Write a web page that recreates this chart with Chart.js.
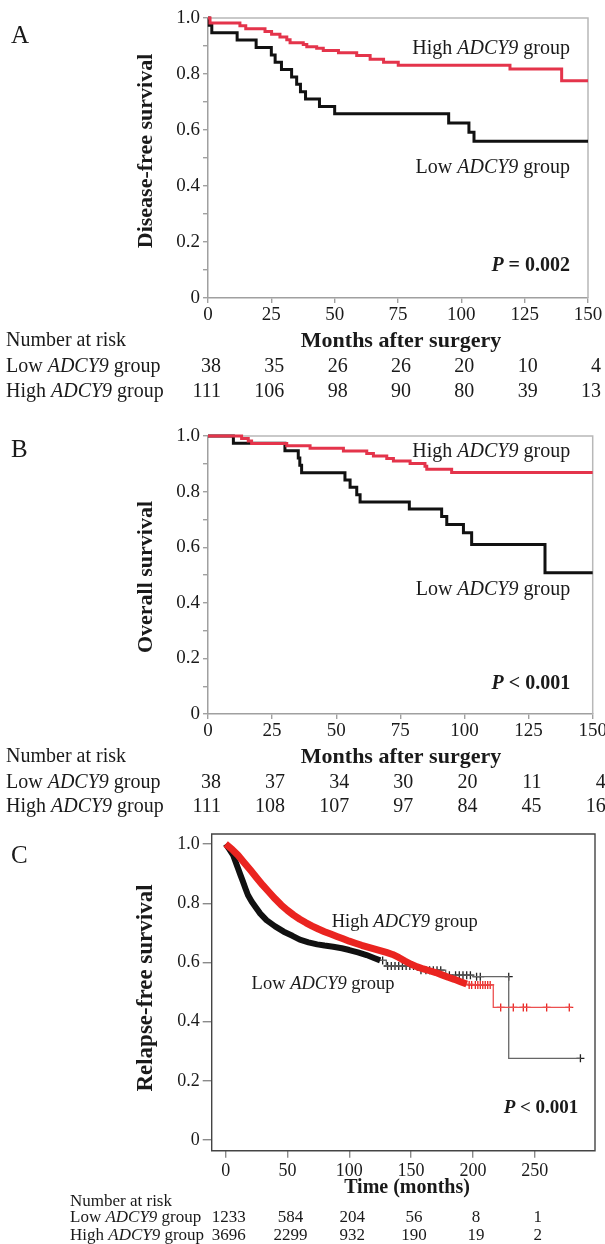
<!DOCTYPE html>
<html>
<head>
<meta charset="utf-8">
<script src="https://cdn.jsdelivr.net/npm/chart.js@4.4.0/dist/chart.umd.min.js"></script>
<style>
html, body { margin: 0; padding: 0; background: #fff; }
body { width: 605px; height: 1244px; position: relative; overflow: hidden; }
canvas { position: absolute; left: 0; }
</style>
</head>
<body>
<canvas id="chartA" width="615" height="410" style="top:0"></canvas>
<canvas id="chartB" width="615" height="420" style="top:410px"></canvas>
<canvas id="chartC" width="605" height="434" style="top:810px"></canvas>
<script>
// ---- Panel A: disease-free survival (step points: event time, survival after it)
const dfsLowT  = [0, 0.5, 1.5, 11.5, 19, 25, 26.5, 29, 33, 35, 36.5, 38.5, 44, 50, 95, 103, 105, 150];
const dfsLowS  = [1, 0.974, 0.947, 0.921, 0.895, 0.868, 0.842, 0.816, 0.789, 0.763, 0.737, 0.711, 0.684, 0.658, 0.625, 0.592, 0.56, 0.56];
const dfsHighT = [0, 0.8, 12.6, 14.9, 22.5, 25.1, 28.4, 31.1, 32.4, 37.6, 39, 42.9, 45.5, 51.5, 58.7, 64, 69.3, 75.1, 119.2, 139.6, 150];
const dfsHighS = [1, 0.982, 0.972, 0.962, 0.952, 0.942, 0.932, 0.922, 0.912, 0.905, 0.897, 0.892, 0.884, 0.876, 0.866, 0.853, 0.842, 0.831, 0.818, 0.776, 0.776];
const dfsRiskLow  = [38, 35, 26, 26, 20, 10, 4];
const dfsRiskHigh = [111, 106, 98, 90, 80, 39, 13];

// ---- Panel B: overall survival
const osLowT  = [0, 9.9, 30, 35.2, 35.8, 36.5, 53.4, 55.4, 58, 59.3, 78.5, 91.1, 93.1, 99.6, 102.8, 131.4, 150];
const osLowS  = [1, 0.974, 0.947, 0.921, 0.895, 0.868, 0.842, 0.816, 0.789, 0.763, 0.737, 0.71, 0.682, 0.652, 0.61, 0.508, 0.508];
const osHighT = [0, 13.1, 15.7, 17, 30.7, 39.8, 52.8, 61.9, 64.5, 69.7, 72.3, 78.8, 84.6, 85.3, 95, 150];
const osHighS = [1, 0.991, 0.982, 0.973, 0.965, 0.956, 0.946, 0.937, 0.928, 0.919, 0.91, 0.901, 0.891, 0.88, 0.869, 0.869];
const osRiskLow  = [38, 37, 34, 30, 20, 11, 4];
const osRiskHigh = [111, 108, 107, 97, 84, 45, 16];

const riskTimesAB = [0, 25, 50, 75, 100, 125, 150];
const xTicksAB = [0, 25, 50, 75, 100, 125, 150];
const yTicksAB = [0, 0.1, 0.2, 0.3, 0.4, 0.5, 0.6, 0.7, 0.8, 0.9, 1.0];
const yLabelsAB = ['0', '', '0.2', '', '0.4', '', '0.6', '', '0.8', '', '1.0'];

// ---- Panel C: relapse-free survival (dense part, tail, censor marks)
const rfsHighT = [0, 5, 10, 15, 20, 25, 30, 35, 40, 45, 50, 55, 60, 65, 70, 75, 80, 85, 90, 95, 100, 105, 110, 115, 120, 125, 130, 135, 140, 145, 150, 155, 160, 165, 170, 175, 180, 185, 190, 195];
const rfsHighS = [1.0, 0.983, 0.962, 0.937, 0.912, 0.886, 0.861, 0.838, 0.815, 0.794, 0.776, 0.76, 0.746, 0.734, 0.723, 0.713, 0.704, 0.696, 0.688, 0.68, 0.672, 0.665, 0.658, 0.652, 0.646, 0.64, 0.634, 0.627, 0.617, 0.605, 0.594, 0.585, 0.578, 0.572, 0.566, 0.558, 0.55, 0.543, 0.535, 0.527];
const rfsHighTailT = [195, 200, 216.5, 280];
const rfsHighTailS = [0.527, 0.524, 0.448, 0.448];
const rfsHighCensT = [197, 199, 202, 204, 206, 208, 210, 212, 214, 222.5, 232.7, 240.8, 243.5, 259.7, 278];
const rfsHighCensS = [0.524, 0.524, 0.524, 0.524, 0.524, 0.524, 0.524, 0.524, 0.524, 0.448, 0.448, 0.448, 0.448, 0.448, 0.448];

const rfsLowT = [0, 3, 6, 8, 10, 12, 14, 16, 18, 21, 24, 28, 33, 40, 47, 54, 60, 67, 74, 80, 87, 94, 100, 107, 114, 120, 125];
const rfsLowS = [1.0, 0.982, 0.963, 0.94, 0.918, 0.895, 0.873, 0.85, 0.828, 0.806, 0.788, 0.765, 0.743, 0.722, 0.704, 0.69, 0.677, 0.668, 0.661, 0.657, 0.653, 0.648, 0.642, 0.634, 0.625, 0.615, 0.607];
const rfsLowTailT = [125, 130, 155, 178, 200, 229, 287];
const rfsLowTailS = [0.607, 0.588, 0.574, 0.557, 0.552, 0.276, 0.276];
const rfsLowCensT = [127, 131, 134, 137, 140, 143, 146, 149, 152, 158, 162, 165, 168, 171, 174, 181, 186, 189, 192, 195, 198, 203, 206, 229, 287];
const rfsLowCensS = [0.607, 0.588, 0.588, 0.588, 0.588, 0.588, 0.588, 0.588, 0.588, 0.574, 0.574, 0.574, 0.574, 0.574, 0.574, 0.557, 0.557, 0.557, 0.557, 0.557, 0.557, 0.552, 0.552, 0.552, 0.276];

const riskTimesC = [0, 50, 100, 150, 200, 250];
const rfsRiskLow  = [1233, 584, 204, 56, 8, 1];
const rfsRiskHigh = [3696, 2299, 932, 190, 19, 2];
const xTicksC = [0, 50, 100, 150, 200, 250];
const yTicksC = [0, 0.2, 0.4, 0.6, 0.8, 1.0];
const yLabelsC = ['0', '0.2', '0.4', '0.6', '0.8', '1.0'];

const SERIF = "'Liberation Serif', 'Times New Roman', serif";
const RED_AB = 'rgb(228, 52, 75)';
const RED_C = 'rgb(234, 36, 32)';

function font(size, style) {
    return (style ? style + ' ' : '') + size + 'px ' + SERIF;
}

function xy(times, vals) {
    return times.map((t, i) => ({x: t, y: vals[i]}));
}

// draws runs of text with their own fonts, one after the other
function drawParts(ctx, parts, x, y, align) {
    let total = 0;
    parts.forEach(p => { ctx.font = p[1]; total += ctx.measureText(p[0]).width; });
    let cx = align === 'right' ? x - total : align === 'center' ? x - total / 2 : x;
    ctx.textAlign = 'left';
    ctx.textBaseline = 'middle';
    parts.forEach(p => {
        ctx.font = p[1];
        ctx.fillText(p[0], cx, y);
        cx += ctx.measureText(p[0]).width;
    });
}

function groupLabel(kind, size) {
    return [[kind + ' ', font(size)], ['ADCY9', font(size, 'italic')], [' group', font(size)]];
}

const kmText = {
    id: 'kmText',
    beforeDatasetsDraw(chart, args, o) {
        const ctx = chart.ctx, a = chart.chartArea;
        ctx.save();
        ctx.strokeStyle = o.frameColor;
        ctx.lineWidth = o.frameWidth;
        ctx.beginPath();
        if (o.fullFrame) {
            ctx.rect(a.left, a.top, a.right - a.left, a.bottom - a.top);
        } else {
            ctx.moveTo(a.left, a.top);
            ctx.lineTo(a.right, a.top);
            ctx.lineTo(a.right, a.bottom);
        }
        ctx.stroke();
        ctx.restore();
    },
    afterDraw(chart, args, o) {
        const ctx = chart.ctx, a = chart.chartArea;
        const xs = chart.scales.x, ys = chart.scales.y;
        ctx.save();
        ctx.fillStyle = '#1a1a1a';

        drawParts(ctx, [[o.letter, font(o.letterSize)]], 11, o.letterY, 'left');

        ctx.save();
        ctx.translate(o.titleX, o.titleY);
        ctx.rotate(-Math.PI / 2);
        drawParts(ctx, [[o.yTitle, font(o.titleSize, 'bold')]], 0, 0, 'center');
        ctx.restore();

        o.labels.forEach(l => {
            drawParts(ctx, groupLabel(l.kind, o.labelSize), xs.getPixelForValue(l.x), ys.getPixelForValue(l.y), l.align);
        });

        drawParts(ctx, [['P', font(o.pSize, 'italic bold')], [' ' + o.pText, font(o.pSize, 'bold')]],
            xs.getPixelForValue(o.pX), ys.getPixelForValue(o.pY), 'right');

        drawParts(ctx, [[o.xTitle, font(o.xTitleSize, 'bold')]], o.xTitleX, a.bottom + o.xTitleDy, 'center');

        const t = o.table;
        drawParts(ctx, [['Number at risk', font(t.size)]], t.x, a.bottom + t.dy[0], 'left');
        drawParts(ctx, groupLabel('Low', t.size), t.x, a.bottom + t.dy[1], 'left');
        drawParts(ctx, groupLabel('High', t.size), t.x, a.bottom + t.dy[2], 'left');
        t.times.forEach((tm, i) => {
            const px = xs.getPixelForValue(tm) + t.numDx;
            drawParts(ctx, [[String(t.low[i]), font(t.size)]], px, a.bottom + t.dy[1], t.numAlign);
            drawParts(ctx, [[String(t.high[i]), font(t.size)]], px, a.bottom + t.dy[2], t.numAlign);
        });
        ctx.restore();
    }
};

function stepLine(times, surv, color, width, order) {
    return {data: xy(times, surv), stepped: true, borderColor: color, borderWidth: width,
        pointRadius: 0, fill: false, clip: false, order: order};
}

function denseLine(times, surv, color, width, order) {
    return {data: xy(times, surv), tension: 0, borderColor: color, borderWidth: width,
        borderJoinStyle: 'round', pointRadius: 0, fill: false, clip: false, order: order};
}

function censorMarks(times, surv, color, order) {
    return {data: xy(times, surv), showLine: false, pointStyle: 'cross', pointRadius: 4,
        pointBorderColor: color, pointBorderWidth: 1.3, clip: false, order: order};
}

function kmChart(id, c) {
    return new Chart(document.getElementById(id), {
        type: 'line',
        data: {datasets: c.datasets},
        options: {
            responsive: false,
            animation: false,
            events: [],
            layout: {padding: c.padding},
            plugins: {legend: {display: false}, tooltip: {enabled: false}, kmText: c.text},
            scales: {
                x: {
                    type: 'linear', min: c.xMin, max: c.xMax,
                    afterBuildTicks: s => { s.ticks = c.xTicks.map(v => ({value: v})); },
                    afterFit: s => { s.height = c.xHeight; },
                    ticks: {callback: v => String(v), font: {family: SERIF, size: c.tickSize}, color: '#1a1a1a',
                        padding: c.xTickPad, maxRotation: 0, autoSkip: false},
                    grid: {drawOnChartArea: false, tickLength: c.xTickLen, color: c.tickColor, lineWidth: 1.4},
                    border: {display: c.axisBorder, color: c.tickColor, width: 1.5}
                },
                y: {
                    type: 'linear', min: c.yMin, max: c.yMax,
                    afterBuildTicks: s => { s.ticks = c.yTicks.map(v => ({value: v})); },
                    afterFit: s => { s.width = c.yWidth; },
                    ticks: {callback: (v, i) => c.yLabels[i], font: {family: SERIF, size: c.tickSize}, color: '#1a1a1a',
                        padding: 3, autoSkip: false},
                    grid: {drawOnChartArea: false, tickLength: c.yTickLen, color: c.tickColor, lineWidth: 1.4},
                    border: {display: c.axisBorder, color: c.tickColor, width: 1.5}
                }
            }
        },
        plugins: [kmText]
    });
}

// Panel A
kmChart('chartA', {
    datasets: [
        stepLine(dfsHighT, dfsHighS, RED_AB, 3, 1),
        stepLine(dfsLowT, dfsLowS, '#111', 3, 2)
    ],
    padding: {top: 18, right: 27, left: 0, bottom: 0},
    xMin: 0, xMax: 150, yMin: 0, yMax: 1,
    xTicks: xTicksAB, yTicks: yTicksAB, yLabels: yLabelsAB,
    xHeight: 112, yWidth: 208, tickSize: 19, xTickPad: 1, xTickLen: 5, yTickLen: 5,
    tickColor: '#a0a0a0', axisBorder: true,
    text: {
        frameColor: '#b8b8b8', frameWidth: 1.5, fullFrame: false,
        letter: 'A', letterSize: 25, letterY: 36,
        yTitle: 'Disease-free survival', titleSize: 22, titleX: 146, titleY: 151,
        labels: [{kind: 'High', x: 142.9, y: 0.889, align: 'right'}, {kind: 'Low', x: 142.9, y: 0.464, align: 'right'}],
        labelSize: 20, pSize: 20, pText: '= 0.002', pX: 142.9, pY: 0.114,
        xTitle: 'Months after surgery', xTitleSize: 22, xTitleX: 401, xTitleDy: 43,
        table: {x: 6, dy: [43, 69, 94], size: 20, times: riskTimesAB, low: dfsRiskLow, high: dfsRiskHigh,
            numDx: 13, numAlign: 'right'}
    }
});

// Panel B
kmChart('chartB', {
    datasets: [
        stepLine(osHighT, osHighS, RED_AB, 3, 1),
        stepLine(osLowT, osLowS, '#111', 3, 2)
    ],
    padding: {top: 26, right: 22.3, left: 0, bottom: 0},
    xMin: 0, xMax: 150, yMin: 0, yMax: 1,
    xTicks: xTicksAB, yTicks: yTicksAB, yLabels: yLabelsAB,
    xHeight: 116, yWidth: 208, tickSize: 19, xTickPad: 1, xTickLen: 5, yTickLen: 5,
    tickColor: '#a0a0a0', axisBorder: true,
    text: {
        frameColor: '#b8b8b8', frameWidth: 1.5, fullFrame: false,
        letter: 'B', letterSize: 25, letterY: 40,
        yTitle: 'Overall survival', titleSize: 22, titleX: 146, titleY: 167,
        labels: [{kind: 'High', x: 141.2, y: 0.944, align: 'right'}, {kind: 'Low', x: 141.2, y: 0.446, align: 'right'}],
        labelSize: 20, pSize: 20, pText: '< 0.001', pX: 141.2, pY: 0.108,
        xTitle: 'Months after surgery', xTitleSize: 22, xTitleX: 401, xTitleDy: 43,
        table: {x: 6, dy: [43, 69, 93], size: 20, times: riskTimesAB, low: osRiskLow, high: osRiskHigh,
            numDx: 13, numAlign: 'right'}
    }
});

// Panel C
kmChart('chartC', {
    datasets: [
        denseLine(rfsHighT, rfsHighS, RED_C, 7, 1),
        stepLine(rfsHighTailT, rfsHighTailS, 'rgb(236, 80, 80)', 1.3, 1),
        censorMarks(rfsHighCensT, rfsHighCensS, RED_C, 1),
        denseLine(rfsLowT, rfsLowS, '#111', 6, 2),
        stepLine(rfsLowTailT, rfsLowTailS, '#666', 1.3, 2),
        censorMarks(rfsLowCensT, rfsLowCensS, '#222', 2)
    ],
    padding: {top: 24, right: 10, left: 0, bottom: 0},
    xMin: -11.3, xMax: 298.8, yMin: -0.036, yMax: 1.034,
    xTicks: xTicksC, yTicks: yTicksC, yLabels: yLabelsC,
    xHeight: 93.3, yWidth: 211.7, tickSize: 18, xTickPad: 3, xTickLen: 7, yTickLen: 9,
    tickColor: '#8a8a8a', axisBorder: false,
    text: {
        frameColor: '#444', frameWidth: 1.4, fullFrame: true,
        letter: 'C', letterSize: 25, letterY: 46,
        yTitle: 'Relapse-free survival', titleSize: 23, titleX: 146, titleY: 178,
        labels: [{kind: 'High', x: 85.8, y: 0.7375, align: 'left'}, {kind: 'Low', x: 21, y: 0.527, align: 'left'}],
        labelSize: 18.5, pSize: 19, pText: '< 0.001', pX: 285.3, pY: 0.108,
        xTitle: 'Time (months)', xTitleSize: 20, xTitleX: 407, xTitleDy: 37,
        table: {x: 70, dy: [51, 67, 84.5], size: 17, times: riskTimesC, low: rfsRiskLow, high: rfsRiskHigh,
            numDx: 3, numAlign: 'center'}
    }
});
</script>
</body>
</html>
